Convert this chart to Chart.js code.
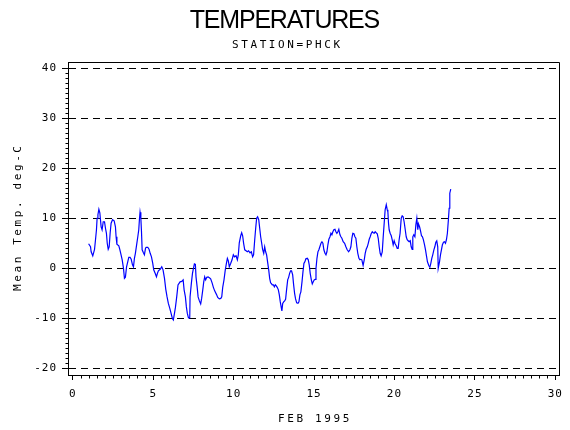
<!DOCTYPE html>
<html><head><meta charset="utf-8">
<script src="https://cdn.jsdelivr.net/npm/chart.js@4"></script>
<style>html,body{margin:0;padding:0;background:#fff;} #wrap{width:570px;height:430px;}</style>
</head><body><div id="wrap"><canvas id="c" width="570" height="430"></canvas></div>
<script>
const titleText = 'TEMPERATURES';
const subtitleText = 'STATION=PHCK';
const xTitle = 'FEB 1995';
const yTitle = 'Mean Temp. deg-C';
const xTicks = [0, 5, 10, 15, 20, 25, 30];
const yTicks = [-20, -10, 0, 10, 20, 30, 40];
const xMinorStep = 0.5;
const yMinorStep = 1;

const days = [
0.98,1.10,1.14,1.24,1.35,1.41,1.47,1.51,1.56,1.62,1.68,1.72,1.76,1.82,1.89,1.97,2.03,2.09,2.14,2.20,
2.26,2.32,2.38,2.47,2.57,2.65,2.69,2.74,2.86,2.92,3.00,3.07,3.15,3.21,3.27,3.34,3.40,3.48,3.56,3.63,
3.71,3.77,3.83,3.89,3.98,4.04,4.10,4.14,4.18,4.23,4.27,4.31,4.39,4.45,4.52,4.56,4.66,4.74,4.81,4.89,
4.97,5.03,5.12,5.20,5.26,5.32,5.43,5.53,5.61,5.70,5.78,5.86,5.94,6.03,6.11,6.19,6.25,6.32,6.38,6.46,6.54,
6.67,6.77,6.86,6.92,7.00,7.06,7.12,7.19,7.27,7.29,7.37,7.44,7.50,7.56,7.62,7.66,7.73,7.79,7.87,7.95,
8.01,8.08,8.14,8.20,8.26,8.33,8.41,8.49,8.57,8.66,8.74,8.82,8.93,9.01,9.11,9.20,9.26,9.32,9.40,9.48,
9.55,9.61,9.67,9.73,9.82,9.90,9.98,10.06,10.15,10.23,10.29,10.35,10.44,10.50,10.56,10.62,10.69,10.77,10.85,10.93,
11.02,11.10,11.18,11.24,11.31,11.37,11.43,11.49,11.56,11.62,11.68,11.74,11.80,11.87,11.93,11.99,12.05,12.11,12.18,12.24,12.30,
12.34,12.40,12.47,12.53,12.59,12.65,12.71,12.78,12.84,12.90,12.96,13.00,13.05,13.11,13.17,13.23,13.29,13.36,13.42,13.48,
13.54,13.60,13.67,13.73,13.79,13.85,13.92,14.00,14.06,14.12,14.18,14.25,14.31,14.37,14.43,14.49,14.58,14.64,14.70,14.76,
14.83,14.89,14.95,15.01,15.07,15.12,15.18,15.24,15.30,15.36,15.43,15.49,15.55,15.61,15.68,15.74,15.80,15.86,15.92,15.99,
16.05,16.11,16.17,16.23,16.30,16.36,16.42,16.48,16.54,16.61,16.67,16.73,16.81,16.90,16.98,17.06,17.15,17.23,17.29,17.35,
17.41,17.48,17.54,17.60,17.66,17.72,17.79,17.85,17.91,17.97,18.05,
18.12,18.18,18.24,18.31,18.37,18.43,18.49,18.55,18.62,18.68,18.74,18.80,18.86,18.93,18.99,19.05,19.11,19.17,19.24,19.30,
19.36,19.42,19.49,19.55,19.59,19.63,19.67,19.73,19.80,19.86,19.92,19.98,20.04,20.11,20.17,20.23,20.29,20.35,20.42,20.48,
20.54,20.60,20.67,20.73,20.79,20.85,20.91,20.98,21.04,21.10,21.14,21.20,21.27,21.33,21.39,21.45,21.49,21.56,21.62,21.68,
21.74,21.80,21.87,21.93,21.99,22.05,22.14,22.20,22.26,22.32,22.38,22.45,22.51,22.57,22.63,22.69,22.72,22.76,22.80,22.86,
22.92,22.98,23.05,23.11,23.17,23.23,23.29,23.36,23.40,23.44,23.50
];
const temps = [
4.9,4.3,3.3,2.5,3.8,5.7,7.7,10,10.7,11.8,11.1,9.7,8.3,7.7,9.3,9.3,8,7,5,3.8,
4.3,7,9,9.7,9.5,8.3,6.3,4.8,4.5,3.8,2.7,1.7,0,-2,-1.8,0.3,1.1,2.2,2.2,1.8,
0.7,0.3,2,3,5,6.3,7.7,9.7,11.2,10,7.3,3.7,3.1,2.7,4,4.2,4.2,3.8,3,2.3,
1,-0.3,-1,-1.7,-1,-0.5,-0.2,0.3,-0.3,-2,-4.2,-5.7,-7,-8,-9,-10,-10.3,-9,-7.8,-5.7,-3.3,
-2.7,-2.6,-2.3,-4.3,-5.7,-7.7,-9,-9.9,-9.9,-5.7,-3,-1,0,0.9,0.8,-1.7,-3.7,-5.7,-6.5,-7.1,
-6,-4.3,-2.7,-1.7,-2.3,-1.8,-1.7,-1.9,-2.1,-2.9,-3.8,-4.5,-5.2,-5.8,-6.1,-6,-5.7,-3.8,-2.3,-0.3,
1,2,1.5,0.3,1,1.7,2.7,2.3,2.5,1.7,2.7,5.1,6.5,7.1,6.5,5,3.7,3.5,3.3,3.5,
3.1,3.3,2.3,2.7,5.7,8,10,10.3,9.7,8,6.3,5.1,3.8,3,4.3,3.3,2.7,1.3,-0.3,-2,-2.9,
-3,-3.3,-3.3,-3.7,-3.3,-3.5,-3.8,-4.3,-5.3,-6.7,-7.8,-8.5,-7,-6.7,-6.5,-6.2,-4.3,-2.3,-1.8,-1,
-0.5,-0.5,-1.3,-3.3,-5,-6.1,-6.9,-7,-6.7,-5.3,-4.7,-2.7,-0.7,1,1.3,1.9,2,1.7,0.7,-1,
-2.3,-3.1,-2.7,-2.3,-2.2,0,2,3.3,3.7,4.3,5,5.3,5,3.7,3,2.7,3.3,4.7,5.8,6.3,
7,6.7,7.3,7.7,7.8,7.3,7,7.3,7.8,6.7,6.3,6,5.3,5,4.3,3.7,3.3,3.7,4.3,6,
7,6.9,6.3,6,4.3,3,2,1.7,1.8,1.7,0.6,
1.7,3,3.8,4.3,5,5.8,6.3,6.9,7.3,7.1,7,7.3,7.1,6.9,6,4.3,3,2.5,3.3,6.3,
9,11.7,12.7,11.7,11.3,9,7.7,7,6.5,5.7,4.7,5.5,4.9,4.5,4,4,5.7,7,10,10.5,
10.3,9.3,7.7,6.3,5.7,5.5,5.3,5.5,4.3,3.8,6.3,6.7,6.3,8.7,10,7.7,8.9,8.3,7.5,6.5,
6.3,5.7,4.7,3.7,2.5,1.3,0.5,0.2,1,2,2.7,3.7,4.3,5.2,5.5,4.3,0,0,1.3,2.7,
3.7,4.7,5.2,5.3,5,5.7,7,10,12,15,15.8
];

const points = days.map((d, i) => ({x: d, y: temps[i]}));
const monoFont = 'DejaVu Sans Mono';

const decorPlugin = {
  id: 'decor',
  beforeDraw(chart) {
    chart.ctx.letterSpacing = '1px';
  },
  afterDraw(chart) {
    const ctx = chart.ctx;
    const ca = chart.chartArea;
    const xs = chart.scales.x, ys = chart.scales.y;
    ctx.save();
    ctx.strokeStyle = '#000';
    ctx.lineWidth = 1;
    ctx.setLineDash([]);
    // frame top and right
    const L = Math.round(ca.left) + 0.5, R = Math.round(ca.right) + 0.5;
    const T = Math.round(ca.top) + 0.5, B = Math.round(ca.bottom) + 0.5;
    ctx.beginPath();
    ctx.moveTo(L, T); ctx.lineTo(R, T); ctx.lineTo(R, B);
    ctx.stroke();
    // minor ticks x
    ctx.beginPath();
    const x0 = xTicks[0], x1 = xTicks[xTicks.length - 1];
    for (let k = 0; x0 + k * xMinorStep <= x1 + 1e-9; k++) {
      const v = x0 + k * xMinorStep;
      if (xTicks.includes(v)) continue;
      const px = Math.round(xs.getPixelForValue(v)) + 0.5;
      ctx.moveTo(px, B); ctx.lineTo(px, B + 3);
    }
    const y0 = yTicks[0], y1 = yTicks[yTicks.length - 1];
    for (let k = 0; y0 + k * yMinorStep <= y1 + 1e-9; k++) {
      const v = y0 + k * yMinorStep;
      if (yTicks.includes(v)) continue;
      const py = Math.round(ys.getPixelForValue(v)) + 0.5;
      ctx.moveTo(L - 3, py); ctx.lineTo(L, py);
    }
    ctx.stroke();
    // titles
    ctx.fillStyle = '#000';
    ctx.textAlign = 'center';
    ctx.textBaseline = 'middle';
    ctx.letterSpacing = '-1.2px';
    ctx.font = '25px "Liberation Sans"';
    ctx.fillText(titleText, 285 - 0.6, 21);
    ctx.letterSpacing = '2.6px';
    ctx.font = '11px "' + monoFont + '"';
    ctx.fillText(subtitleText, 286 + 1.3, 45);
    ctx.fillText(xTitle, (ca.left + ca.right) / 2 + 1.3, 419);
    ctx.translate(18, (ca.top + ca.bottom) / 2);
    ctx.rotate(-Math.PI / 2);
    ctx.fillText(yTitle, 1.3, 0);
    ctx.restore();
  }
};

new Chart(document.getElementById('c'), {
  type: 'scatter',
  data: {
    datasets: [{
      data: points,
      showLine: true,
      borderColor: '#0000ff',
      borderWidth: 1.2,
      pointRadius: 0,
      pointHoverRadius: 0,
      tension: 0,
      fill: false
    }]
  },
  options: {
    responsive: false,
    animation: false,
    devicePixelRatio: 1,
    layout: {padding: {top: 62, right: 10, left: 0, bottom: 0}},
    plugins: {legend: {display: false}, tooltip: {enabled: false}, title: {display: false}},
    scales: {
      x: {
        type: 'linear',
        min: -0.3,
        max: 30.25,
        afterBuildTicks: s => { s.ticks = xTicks.map(v => ({value: v})); },
        afterFit: s => { s.height = 55; },
        ticks: {font: {family: monoFont, size: 11}, color: '#000', padding: 8, maxRotation: 0, autoSkip: false},
        grid: {drawOnChartArea: false, drawTicks: true, tickLength: 5, color: '#000', lineWidth: 1},
        border: {display: true, color: '#000', width: 1}
      },
      y: {
        type: 'linear',
        min: -21.3,
        max: 41.2,
        afterBuildTicks: s => { s.ticks = yTicks.map(v => ({value: v})); },
        afterFit: s => { s.width = 68; },
        ticks: {font: {family: monoFont, size: 11}, color: '#000', padding: 5, autoSkip: false},
        grid: {drawOnChartArea: true, drawTicks: true, tickLength: 6, color: '#000', lineWidth: 1, tickBorderDash: []},
        border: {display: true, color: '#000', width: 1, dash: [7, 5]}
      }
    }
  },
  plugins: [decorPlugin]
});
</script>
</body></html>
